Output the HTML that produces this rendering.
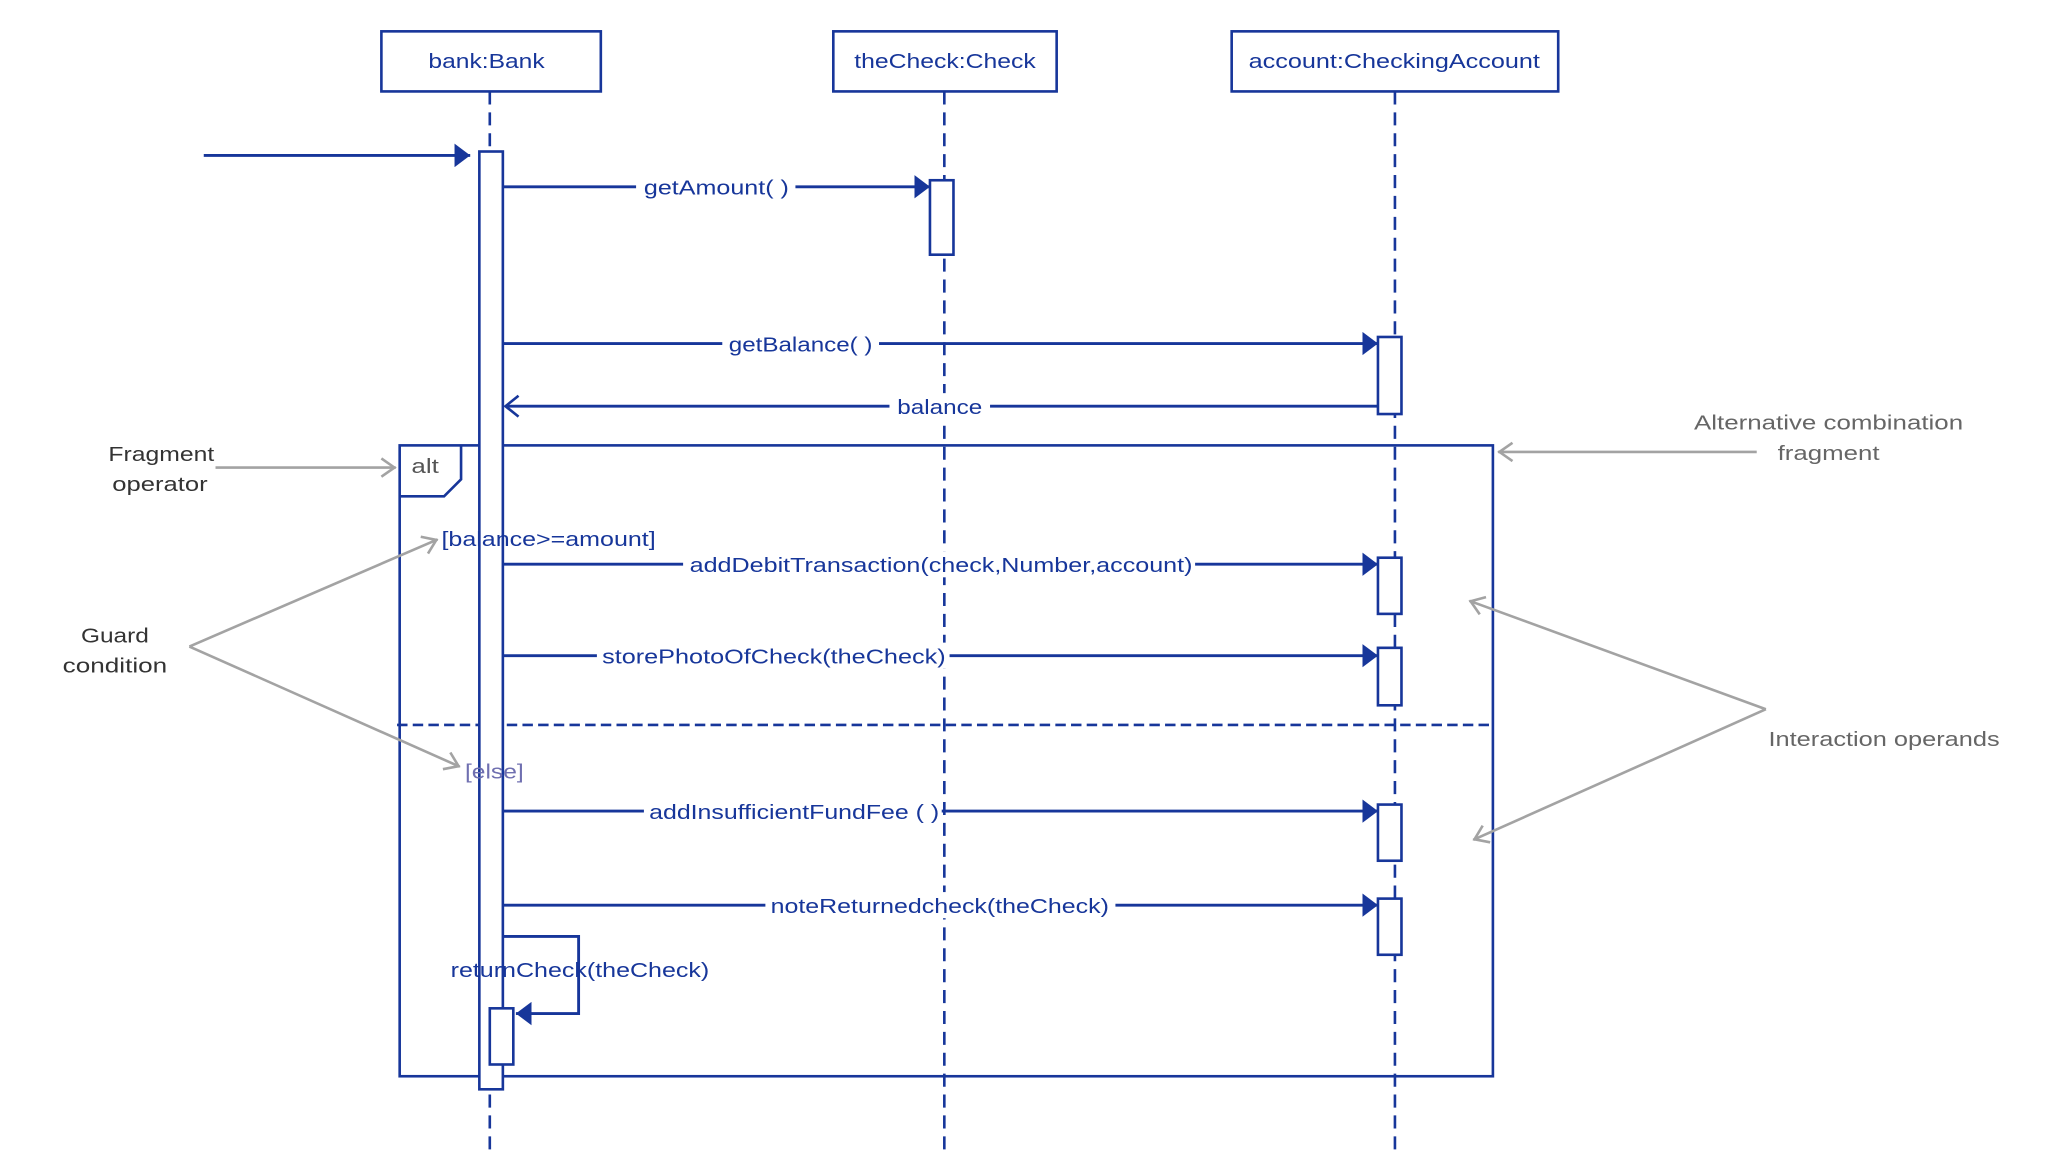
<!DOCTYPE html>
<html><head><meta charset="utf-8"><style>
html,body{margin:0;padding:0;background:#fff;}
svg{display:block;}
text{font-family:"Liberation Sans",sans-serif;font-size:15.5px;}
</style></head><body>
<svg width="2048" height="1152" viewBox="0 0 1568 882" xmlns="http://www.w3.org/2000/svg">
<defs>
<marker id="fa" markerWidth="13" markerHeight="18" refX="12" refY="9" orient="auto" markerUnits="userSpaceOnUse"><path d="M0,0 L12,9 L0,18 Z" fill="#17369a"/></marker>
<marker id="oa" markerWidth="14" markerHeight="18" refX="12" refY="9" orient="auto" markerUnits="userSpaceOnUse"><path d="M2,1 L12,9 L2,17" fill="none" stroke="#17369a" stroke-width="2"/></marker>
<marker id="ga" markerWidth="14" markerHeight="16" refX="13" refY="8" orient="auto" markerUnits="userSpaceOnUse"><path d="M2,1 L12,8 L2,15" fill="none" stroke="#a3a3a3" stroke-width="2"/></marker>
</defs>
<rect width="1568" height="882" fill="#fff"/>
<g stroke="#17369a" stroke-width="2" fill="#fff">
<rect x="292" y="24" width="168" height="46"/>
<rect x="638" y="24" width="171" height="46"/>
<rect x="943" y="24" width="250" height="46"/>
</g>
<g fill="#17369a" lengthAdjust="spacingAndGlyphs">
<text x="328" y="52" textLength="89" lengthAdjust="spacingAndGlyphs">bank:Bank</text>
<text x="654" y="52" textLength="139" lengthAdjust="spacingAndGlyphs">theCheck:Check</text>
<text x="956" y="52" textLength="223" lengthAdjust="spacingAndGlyphs">account:CheckingAccount</text>
</g>
<g stroke="#17369a" stroke-width="2" stroke-dasharray="10,6">
<line x1="375" y1="70" x2="375" y2="882"/>
<line x1="723" y1="70" x2="723" y2="882"/>
<line x1="1068" y1="70" x2="1068" y2="882"/>
</g>
<rect x="306" y="341" width="837" height="483" fill="none" stroke="#17369a" stroke-width="2"/>
<path d="M306,380 L340,380 L353,367 L353,341" fill="none" stroke="#17369a" stroke-width="2"/>
<text x="315" y="362" fill="#555" textLength="21" lengthAdjust="spacingAndGlyphs">alt</text>
<line x1="304" y1="555" x2="1141" y2="555" stroke="#17369a" stroke-width="2" stroke-dasharray="8,4"/>
<g stroke="#17369a" stroke-width="2" fill="#fff">
<rect x="367" y="116" width="18" height="718"/>
<rect x="712" y="138" width="18" height="57"/>
<rect x="1055" y="258" width="18" height="59"/>
<rect x="1055" y="427" width="18" height="43"/>
<rect x="1055" y="496" width="18" height="44"/>
<rect x="1055" y="616" width="18" height="43"/>
<rect x="1055" y="688" width="18" height="43"/>
</g>
<g stroke="#17369a" stroke-width="2.2" fill="none">
<line x1="156" y1="119" x2="360" y2="119" marker-end="url(#fa)"/>
<line x1="385" y1="143" x2="712" y2="143" marker-end="url(#fa)"/>
<line x1="385" y1="263" x2="1055" y2="263" marker-end="url(#fa)"/>
<line x1="1055" y1="311" x2="387" y2="311" marker-end="url(#oa)"/>
<line x1="385" y1="432" x2="1055" y2="432" marker-end="url(#fa)"/>
<line x1="385" y1="502" x2="1055" y2="502" marker-end="url(#fa)"/>
<line x1="385" y1="621" x2="1055" y2="621" marker-end="url(#fa)"/>
<line x1="385" y1="693" x2="1055" y2="693" marker-end="url(#fa)"/>
<path d="M385,717 L443,717 L443,776 L395,776" marker-end="url(#fa)"/>
</g>
<rect x="375" y="772" width="18" height="43" fill="#fff" stroke="#17369a" stroke-width="2"/>
<g fill="#17369a">
<rect x="487" y="133" width="122" height="20" fill="#fff"/><text x="493" y="149" textLength="111" lengthAdjust="spacingAndGlyphs">getAmount( )</text>
<rect x="553" y="253" width="120" height="20" fill="#fff"/><text x="558" y="269" textLength="110" lengthAdjust="spacingAndGlyphs">getBalance( )</text>
<rect x="681" y="301" width="77" height="20" fill="#fff"/><text x="687" y="317" textLength="65" lengthAdjust="spacingAndGlyphs">balance</text>
<rect x="523" y="422" width="392" height="20" fill="#fff"/><text x="528" y="438" textLength="385" lengthAdjust="spacingAndGlyphs">addDebitTransaction(check,Number,account)</text>
<rect x="457" y="492" width="270" height="20" fill="#fff"/><text x="461" y="508" textLength="263" lengthAdjust="spacingAndGlyphs">storePhotoOfCheck(theCheck)</text>
<rect x="493" y="611" width="228" height="20" fill="#fff"/><text x="497" y="627" textLength="222" lengthAdjust="spacingAndGlyphs">addInsufficientFundFee ( )</text>
<rect x="586" y="683" width="268" height="20" fill="#fff"/><text x="590" y="699" textLength="259" lengthAdjust="spacingAndGlyphs">noteReturnedcheck(theCheck)</text>
<text x="345" y="748" textLength="198" lengthAdjust="spacingAndGlyphs">returnCheck(theCheck)</text>
<text x="338" y="418" textLength="164" lengthAdjust="spacingAndGlyphs">[balance&gt;=amount]</text>
</g>
<text x="356" y="596" fill="#6f6fb0" textLength="45" lengthAdjust="spacingAndGlyphs">[else]</text>
<g stroke="#a3a3a3" stroke-width="2" fill="none">
<line x1="165" y1="358" x2="303" y2="358" marker-end="url(#ga)"/>
<line x1="1345" y1="346" x2="1147" y2="346" marker-end="url(#ga)"/>
<line x1="145" y1="495" x2="335" y2="413" marker-end="url(#ga)"/>
<line x1="145" y1="495" x2="352" y2="587" marker-end="url(#ga)"/>
<line x1="1352" y1="543" x2="1125" y2="460" marker-end="url(#ga)"/>
<line x1="1352" y1="543" x2="1128" y2="643" marker-end="url(#ga)"/>
</g>
<g>
<text x="83" y="353" fill="#333" textLength="81" lengthAdjust="spacingAndGlyphs">Fragment</text>
<text x="86" y="376" fill="#333" textLength="73" lengthAdjust="spacingAndGlyphs">operator</text>
<text x="62" y="492" fill="#333" textLength="52" lengthAdjust="spacingAndGlyphs">Guard</text>
<text x="48" y="515" fill="#333" textLength="80" lengthAdjust="spacingAndGlyphs">condition</text>
<text x="1297" y="329" fill="#666" textLength="206" lengthAdjust="spacingAndGlyphs">Alternative combination</text>
<text x="1361" y="352" fill="#666" textLength="78" lengthAdjust="spacingAndGlyphs">fragment</text>
<text x="1354" y="571" fill="#666" textLength="177" lengthAdjust="spacingAndGlyphs">Interaction operands</text>
</g>
</svg>
</body></html>
